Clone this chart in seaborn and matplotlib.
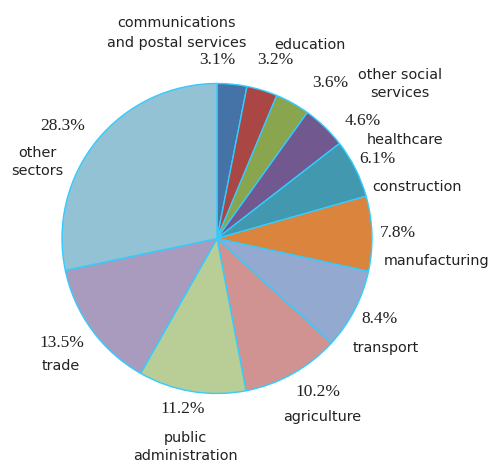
import matplotlib
matplotlib.use("Agg")
import matplotlib.pyplot as plt
import seaborn as sns

sns.set_theme(style="white")
plt.rcParams["font.family"] = ["DejaVu Sans"]

# Employment structure by sector, share in percent (clockwise from 12 o'clock)
sectors = [
    "communications\nand postal services", "education", "other social\nservices",
    "healthcare", "construction", "manufacturing", "transport", "agriculture",
    "public\nadministration", "trade", "other\nsectors",
]
shares = [3.1, 3.2, 3.6, 4.6, 6.1, 7.8, 8.4, 10.2, 11.2, 13.5, 28.3]
colors = [
    "#4572a7", "#aa4643", "#89a54e", "#71588f", "#4198af", "#db843d",
    "#93a9cf", "#d19392", "#b9cd96", "#a99bbd", "#92c2d4",
]

# Label anchor points in pixels: (name x, name y, value x, value y, line spacing)
label_layout = [
    (177, 33, 217, 60, 1.6), (310, 45, 275, 60, 1.0), (400, 84, 330, 83, 1.45),
    (405, 140, 363, 121, 1.0), (417, 187, 377, 159, 1.0), (437, 261, 398, 233, 1.0),
    (386, 348, 380, 319, 1.0), (322, 417, 318, 392, 1.0), (185, 447, 183, 409, 1.4),
    (61, 366, 62, 343, 1.0), (37, 162, 63, 126, 1.3),
]

W, H, DPI = 496, 461, 100
cx, cy, R = 217, 238.5, 155

fig = plt.figure(figsize=(W / DPI, H / DPI), dpi=DPI)
ax = fig.add_axes([0, 0, 1, 1])
ax.pie(
    shares, colors=colors, startangle=90, counterclock=False, radius=1,
    wedgeprops=dict(edgecolor="#33ccff", linewidth=1.0),
)
ax.set_xlim(-cx / R, (W - cx) / R)
ax.set_ylim(-(H - cy) / R, cy / R)
ax.set_aspect("equal")
ax.axis("off")


def to_data(px, py):
    return (px - cx) / R, (cy - py) / R


for name, val, (nx, ny, vx, vy, ls) in zip(sectors, shares, label_layout):
    x, y = to_data(nx, ny)
    ax.text(x, y, name, ha="center", va="center", fontsize=10.4,
            color="#222222", linespacing=ls)
    x, y = to_data(vx, vy)
    ax.text(x, y, f"{val:.1f}%", ha="center", va="center", fontsize=12.5,
            family="Liberation Serif", color="#222222")

fig.savefig("out.png", dpi=DPI)
